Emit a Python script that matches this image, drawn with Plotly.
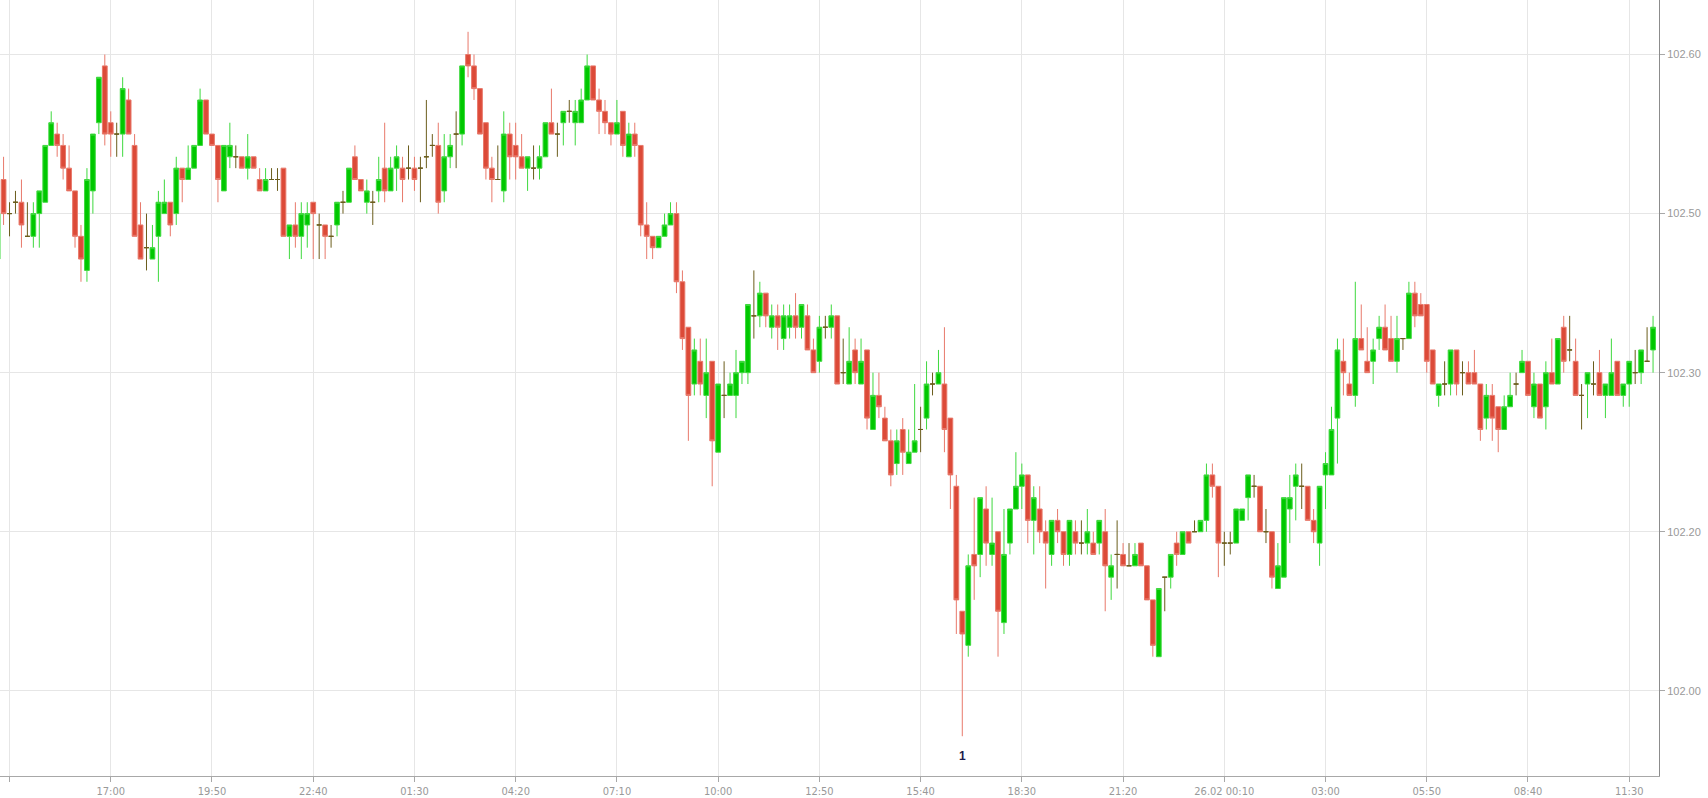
import datetime as dt
import plotly.graph_objects as go

# ---- data: 10-minute candles, first candle 24.02 13:50 ----
start_time = dt.datetime(2014, 2, 24, 13, 50)
interval_minutes = 10

opens = [102.42,102.49,102.46,102.47,102.47,102.44,102.44,102.46,102.47,102.52,
 102.53,102.52,102.50,102.48,102.44,102.41,102.48,102.54,102.59,102.54,
 102.53,102.53,102.56,102.52,102.45,102.43,102.42,102.44,102.46,102.47,
 102.46,102.50,102.49,102.50,102.52,102.56,102.53,102.52,102.48,102.51,
 102.51,102.51,102.50,102.51,102.49,102.48,102.49,102.49,102.50,102.44,
 102.45,102.44,102.45,102.47,102.45,102.45,102.44,102.45,102.47,102.47,
 102.51,102.49,102.47,102.47,102.48,102.50,102.48,102.50,102.50,102.50,
 102.50,102.50,102.51,102.52,102.52,102.48,102.51,102.53,102.53,102.60,
 102.59,102.57,102.54,102.50,102.49,102.48,102.53,102.52,102.51,102.50,
 102.50,102.50,102.51,102.54,102.53,102.54,102.55,102.54,102.54,102.56,
 102.59,102.56,102.55,102.54,102.53,102.55,102.51,102.53,102.52,102.45,
 102.44,102.43,102.44,102.45,102.46,102.40,102.36,102.31,102.33,102.30,
 102.33,102.25,102.30,102.30,102.30,102.32,102.32,102.37,102.37,102.39,
 102.36,102.37,102.35,102.36,102.37,102.36,102.37,102.34,102.33,102.36,
 102.36,102.37,102.32,102.31,102.34,102.31,102.34,102.27,102.30,102.28,
 102.26,102.24,102.27,102.24,102.25,102.27,102.28,102.31,102.31,102.31,
 102.28,102.22,102.11,102.08,102.16,102.16,102.20,102.16,102.18,102.10,
 102.17,102.20,102.22,102.23,102.19,102.20,102.18,102.16,102.19,102.18,
 102.16,102.18,102.17,102.17,102.17,102.17,102.18,102.14,102.16,102.16,
 102.15,102.15,102.17,102.15,102.12,102.07,102.14,102.14,102.17,102.16,
 102.18,102.18,102.18,102.19,102.23,102.22,102.17,102.17,102.17,102.19,
 102.21,102.22,102.22,102.18,102.18,102.13,102.14,102.20,102.22,102.22,
 102.22,102.19,102.17,102.23,102.23,102.28,102.33,102.31,102.30,102.35,
 102.33,102.33,102.35,102.36,102.35,102.33,102.35,102.35,102.39,102.38,
 102.38,102.34,102.30,102.31,102.31,102.34,102.32,102.32,102.32,102.31,
 102.28,102.30,102.29,102.27,102.29,102.31,102.32,102.33,102.29,102.31,
 102.29,102.32,102.31,102.36,102.34,102.33,102.30,102.31,102.31,102.32,
 102.30,102.30,102.33,102.30,102.31,102.32,102.32,102.33,102.34]

highs = [102.47,102.51,102.47,102.48,102.49,102.47,102.47,102.48,102.52,102.55,
 102.54,102.53,102.52,102.48,102.45,102.50,102.53,102.58,102.60,102.55,
 102.54,102.58,102.57,102.53,102.47,102.46,102.45,102.48,102.49,102.47,
 102.51,102.50,102.52,102.52,102.57,102.56,102.53,102.52,102.52,102.54,
 102.52,102.51,102.53,102.51,102.50,102.50,102.50,102.50,102.50,102.45,
 102.47,102.47,102.47,102.47,102.46,102.45,102.45,102.47,102.48,102.50,
 102.52,102.49,102.49,102.48,102.51,102.54,102.51,102.52,102.51,102.52,
 102.51,102.51,102.56,102.53,102.54,102.53,102.53,102.55,102.59,102.62,
 102.60,102.57,102.54,102.51,102.52,102.55,102.54,102.54,102.53,102.51,
 102.52,102.52,102.54,102.57,102.54,102.55,102.56,102.56,102.57,102.60,
 102.59,102.57,102.56,102.54,102.56,102.55,102.54,102.54,102.52,102.47,
 102.44,102.44,102.46,102.47,102.47,102.41,102.36,102.35,102.35,102.35,
 102.33,102.31,102.33,102.32,102.34,102.33,102.38,102.41,102.40,102.39,
 102.38,102.38,102.38,102.38,102.39,102.38,102.38,102.35,102.37,102.37,
 102.38,102.37,102.35,102.36,102.35,102.35,102.34,102.32,102.32,102.29,
 102.27,102.27,102.28,102.27,102.31,102.29,102.33,102.32,102.34,102.36,
 102.28,102.23,102.11,102.16,102.21,102.21,102.22,102.21,102.18,102.20,
 102.20,102.25,102.24,102.23,102.22,102.22,102.19,102.19,102.20,102.18,
 102.19,102.19,102.19,102.20,102.18,102.19,102.20,102.16,102.19,102.17,
 102.17,102.17,102.17,102.15,102.12,102.13,102.14,102.16,102.18,102.18,
 102.18,102.19,102.19,102.24,102.24,102.22,102.18,102.18,102.20,102.20,
 102.23,102.23,102.22,102.20,102.18,102.17,102.21,102.23,102.24,102.24,
 102.22,102.20,102.22,102.25,102.29,102.35,102.35,102.32,102.40,102.38,
 102.36,102.35,102.37,102.38,102.37,102.37,102.35,102.40,102.40,102.39,
 102.38,102.34,102.31,102.33,102.34,102.34,102.33,102.33,102.34,102.31,
 102.31,102.31,102.29,102.30,102.32,102.32,102.34,102.33,102.32,102.31,
 102.33,102.35,102.35,102.37,102.37,102.35,102.31,102.32,102.33,102.34,
 102.31,102.35,102.33,102.31,102.33,102.34,102.34,102.36,102.37]

lows = [102.41,102.45,102.44,102.46,102.43,102.44,102.43,102.43,102.47,102.52,
 102.51,102.49,102.48,102.43,102.40,102.40,102.46,102.53,102.52,102.51,
 102.51,102.51,102.53,102.44,102.42,102.41,102.42,102.40,102.46,102.44,
 102.45,102.47,102.49,102.50,102.52,102.53,102.52,102.47,102.48,102.50,
 102.50,102.50,102.49,102.50,102.48,102.48,102.49,102.48,102.44,102.42,
 102.43,102.42,102.43,102.42,102.42,102.42,102.43,102.44,102.46,102.47,
 102.49,102.48,102.46,102.45,102.47,102.47,102.48,102.48,102.47,102.49,
 102.48,102.47,102.50,102.51,102.46,102.47,102.50,102.50,102.52,102.58,
 102.56,102.53,102.49,102.47,102.49,102.47,102.49,102.49,102.50,102.48,
 102.49,102.49,102.51,102.53,102.51,102.52,102.54,102.52,102.54,102.56,
 102.56,102.53,102.53,102.52,102.53,102.51,102.51,102.51,102.44,102.42,
 102.42,102.43,102.44,102.45,102.39,102.34,102.26,102.30,102.30,102.28,
 102.22,102.25,102.28,102.30,102.28,102.31,102.31,102.35,102.36,102.36,
 102.35,102.34,102.34,102.35,102.35,102.35,102.34,102.32,102.32,102.35,
 102.35,102.31,102.31,102.31,102.31,102.31,102.27,102.27,102.28,102.26,
 102.22,102.23,102.23,102.24,102.25,102.25,102.27,102.30,102.31,102.25,
 102.20,102.09,102.00,102.07,102.12,102.14,102.15,102.15,102.07,102.09,
 102.16,102.20,102.20,102.17,102.16,102.17,102.13,102.15,102.17,102.15,
 102.15,102.16,102.16,102.16,102.16,102.16,102.11,102.12,102.13,102.15,
 102.15,102.15,102.15,102.12,102.07,102.07,102.11,102.13,102.15,102.16,
 102.17,102.18,102.18,102.18,102.21,102.14,102.15,102.16,102.17,102.19,
 102.19,102.21,102.18,102.17,102.13,102.13,102.14,102.17,102.19,102.20,
 102.19,102.17,102.15,102.20,102.23,102.24,102.30,102.30,102.29,102.34,
 102.32,102.31,102.34,102.34,102.33,102.32,102.34,102.35,102.36,102.37,
 102.32,102.31,102.29,102.30,102.30,102.30,102.30,102.31,102.31,102.26,
 102.27,102.26,102.25,102.27,102.29,102.30,102.32,102.30,102.28,102.28,
 102.27,102.31,102.31,102.32,102.33,102.30,102.27,102.28,102.30,102.30,
 102.28,102.30,102.30,102.29,102.29,102.31,102.31,102.33,102.32]

closes = [102.46,102.46,102.46,102.47,102.45,102.44,102.46,102.48,102.52,102.54,
 102.52,102.50,102.48,102.44,102.42,102.49,102.53,102.58,102.53,102.53,
 102.53,102.57,102.53,102.44,102.42,102.43,102.43,102.47,102.47,102.45,
 102.50,102.49,102.50,102.52,102.56,102.53,102.52,102.49,102.52,102.52,
 102.51,102.50,102.51,102.50,102.48,102.49,102.49,102.49,102.44,102.45,
 102.44,102.46,102.46,102.46,102.45,102.44,102.44,102.47,102.47,102.50,
 102.49,102.48,102.48,102.47,102.49,102.48,102.50,102.51,102.49,102.50,
 102.49,102.50,102.51,102.52,102.47,102.51,102.52,102.53,102.59,102.59,
 102.57,102.53,102.50,102.49,102.49,102.53,102.51,102.51,102.50,102.51,
 102.50,102.51,102.54,102.53,102.53,102.55,102.55,102.55,102.56,102.59,
 102.56,102.55,102.54,102.53,102.54,102.52,102.53,102.52,102.45,102.44,
 102.43,102.44,102.45,102.46,102.40,102.35,102.30,102.34,102.31,102.32,
 102.26,102.31,102.30,102.31,102.32,102.33,102.38,102.37,102.39,102.37,
 102.37,102.36,102.37,102.37,102.36,102.38,102.34,102.32,102.36,102.36,
 102.37,102.31,102.32,102.33,102.32,102.33,102.28,102.30,102.29,102.26,
 102.23,102.26,102.25,102.25,102.26,102.27,102.31,102.31,102.32,102.27,
 102.23,102.12,102.09,102.15,102.15,102.21,102.17,102.17,102.11,102.16,
 102.20,102.22,102.23,102.19,102.21,102.18,102.17,102.19,102.18,102.16,
 102.19,102.17,102.17,102.18,102.16,102.19,102.15,102.15,102.16,102.15,
 102.15,102.16,102.15,102.12,102.08,102.13,102.14,102.16,102.16,102.18,
 102.17,102.18,102.19,102.23,102.22,102.17,102.17,102.17,102.20,102.20,
 102.23,102.22,102.18,102.18,102.14,102.15,102.21,102.21,102.23,102.22,
 102.19,102.18,102.22,102.24,102.27,102.34,102.32,102.30,102.35,102.34,
 102.32,102.34,102.36,102.34,102.33,102.35,102.35,102.39,102.37,102.37,
 102.33,102.31,102.31,102.31,102.34,102.31,102.32,102.31,102.31,102.27,
 102.30,102.28,102.27,102.29,102.30,102.31,102.33,102.30,102.31,102.28,
 102.32,102.31,102.35,102.33,102.34,102.30,102.30,102.32,102.31,102.30,
 102.31,102.32,102.30,102.31,102.33,102.32,102.34,102.33,102.36]

tick_times = ["2014-02-24 14:10", "2014-02-24 17:00", "2014-02-24 19:50", "2014-02-24 22:40",
              "2014-02-25 01:30", "2014-02-25 04:20", "2014-02-25 07:10", "2014-02-25 10:00",
              "2014-02-25 12:50", "2014-02-25 15:40", "2014-02-25 18:30", "2014-02-25 21:20",
              "2014-02-26 00:10", "2014-02-26 03:00", "2014-02-26 05:50", "2014-02-26 08:40",
              "2014-02-26 11:30"]
tick_labels = ["", "17:00", "19:50", "22:40", "01:30", "04:20", "07:10", "10:00", "12:50",
               "15:40", "18:30", "21:20", "26.02 00:10", "03:00", "05:50", "08:40", "11:30"]

y_tick_values = [102.04, 102.18, 102.32, 102.46, 102.60]
y_tick_labels = ["102.00", "102.20", "102.30", "102.50", "102.60"]

marker_label = "1"
marker_candle = 162

# ---- build ----
times = [start_time + dt.timedelta(minutes=interval_minutes * i) for i in range(len(opens))]

GREEN = "#00c800"
RED = "#dc4a38"
DOJI = "#6b5d1c"

groups = {"up": [], "down": [], "doji": []}
for i, (o, c) in enumerate(zip(opens, closes)):
    if abs(c - o) < 1e-9:
        groups["doji"].append(i)
    elif c > o:
        groups["up"].append(i)
    else:
        groups["down"].append(i)

fig = go.Figure()
styles = {
    "up": (GREEN, "#3fd93f"),
    "down": (RED, "#e8796b"),
    "doji": (DOJI, DOJI),
}
for name, idx in groups.items():
    fill, line = styles[name]
    fig.add_trace(go.Candlestick(
        x=[times[i] for i in idx],
        open=[opens[i] for i in idx],
        high=[highs[i] for i in idx],
        low=[lows[i] for i in idx],
        close=[closes[i] for i in idx],
        increasing=dict(fillcolor=fill, line=dict(color=line, width=1)),
        decreasing=dict(fillcolor=fill, line=dict(color=line, width=1)),
        whiskerwidth=0,
        showlegend=False,
        hoverinfo="skip",
    ))

fig.add_annotation(
    x=times[marker_candle], y=101.983, text="<b>%s</b>" % marker_label,
    showarrow=False, font=dict(family="Liberation Sans, Arial, sans-serif", size=12, color="#1c1c4c"),
)

fig.update_layout(
    width=1708, height=798,
    margin=dict(l=0, r=49, t=0, b=22),
    paper_bgcolor="white", plot_bgcolor="white",
    boxgap=0.2, boxgroupgap=0,
    showlegend=False,
    xaxis=dict(
        type="date",
        range=["2014-02-24 13:54", "2014-02-26 12:20"],
        rangeslider=dict(visible=False),
        tickvals=tick_times, ticktext=tick_labels,
        showgrid=True, gridcolor="#e6e6e6", gridwidth=1,
        showline=True, linecolor="#a8a8a8", linewidth=1,
        ticks="outside", ticklen=5, tickcolor="#a8a8a8",
        tickfont=dict(family="Liberation Sans Narrow, DejaVu Sans Condensed, sans-serif", size=11, color="#999999"),
        zeroline=False,
    ),
    yaxis=dict(
        side="right",
        range=[101.965, 102.648],
        tickvals=y_tick_values, ticktext=y_tick_labels,
        showgrid=True, gridcolor="#e6e6e6", gridwidth=1,
        showline=True, linecolor="#8c8c8c", linewidth=1,
        ticks="outside", ticklen=5, tickcolor="#a8a8a8",
        tickfont=dict(family="Liberation Sans, Arial, sans-serif", size=11, color="#999999"),
        zeroline=False,
    ),
)

fig.write_html(
    "out.html",
    config={"displayModeBar": False},
    post_script="document.body.style.margin='0';document.body.style.overflow='hidden';",
)
